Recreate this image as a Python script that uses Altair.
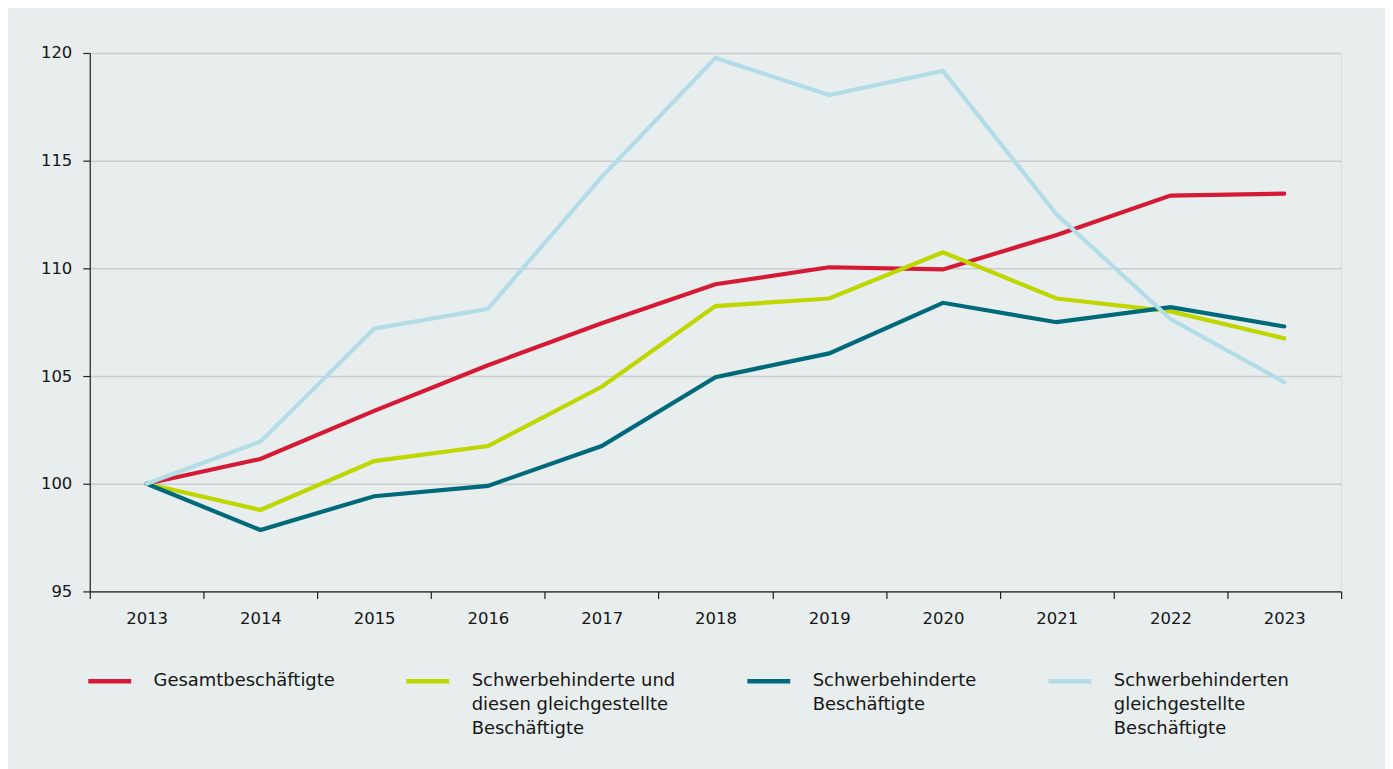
import altair as alt
import pandas as pd
import json

years = [str(y) for y in range(2013, 2024)]
series = [
    "Gesamtbeschäftigte",
    "Schwerbehinderte und diesen gleichgestellte Beschäftigte",
    "Schwerbehinderte Beschäftigte",
    "Schwerbehinderten gleichgestellte Beschäftigte",
]
legend_lines = [
    ["Gesamtbeschäftigte", "", ""],
    ["Schwerbehinderte und", "diesen gleichgestellte", "Beschäftigte"],
    ["Schwerbehinderte", "Beschäftigte", ""],
    ["Schwerbehinderten", "gleichgestellte", "Beschäftigte"],
]
colors = ["#d51a36", "#bfd600", "#00697a", "#b2dce8"]

gesamt = [100, 101.15, 103.38, 105.5, 107.45, 109.26, 110.05, 109.95, 111.55, 113.38, 113.47]
sb_gleich = [100, 98.78, 101.05, 101.75, 104.5, 108.25, 108.6, 110.75, 108.6, 108.0, 106.75]
sb = [100, 97.85, 99.42, 99.9, 101.75, 104.95, 106.05, 108.4, 107.5, 108.2, 107.3]
gleich = [100, 101.95, 107.2, 108.12, 114.25, 119.77, 118.05, 119.17, 112.5, 107.65, 104.72]

values = [gesamt, sb_gleich, sb, gleich]
rows = []
for name, vals in zip(series, values):
    for yr, v in zip(years, vals):
        rows.append({"Jahr": yr, "Serie": name, "Wert": v})
df = pd.DataFrame(rows)

label_map = json.dumps(dict(zip(series, legend_lines)), ensure_ascii=False)

FONT = "DejaVu Sans"
TXT = "#161616"

chart = alt.Chart(df).mark_line(strokeWidth=4.2, strokeCap="round", strokeJoin="miter").encode(
    x=alt.X(
        "Jahr:O",
        scale=alt.Scale(type="band", paddingInner=0, paddingOuter=0),
        bandPosition=0.5,
        axis=alt.Axis(
            title=None, labelAngle=0, tickBand="extent", grid=False,
            domainColor="#222222", tickColor="#222222", tickSize=7,
            labelPadding=12, labelFontSize=16.5, labelColor=TXT, labelFont=FONT,
            domainWidth=1.2, tickWidth=1.2,
        ),
    ),
    y=alt.Y(
        "Wert:Q",
        scale=alt.Scale(domain=[95, 120], nice=False, zero=False),
        axis=alt.Axis(
            title=None, values=[95, 100, 105, 110, 115, 120], grid=True,
            gridColor="#c9cdcd", gridWidth=1.5,
            domainColor="#222222", tickColor="#222222", tickSize=7,
            labelPadding=11, labelFontSize=16.5, labelColor=TXT, labelFont=FONT,
            domainWidth=1.2, tickWidth=1.2,
        ),
    ),
    color=alt.Color(
        "Serie:N",
        scale=alt.Scale(domain=series, range=colors),
        legend=alt.Legend(
            title=None, orient="none", legendX=-4, legendY=606,
            direction="horizontal", columns=4, columnPadding=62,
            symbolType="stroke", symbolSize=1849, symbolStrokeWidth=4.5,
            labelExpr=f"({label_map})[datum.label]",
            labelFontSize=18, labelFont=FONT, labelColor=TXT, labelLimit=0,
            labelOffset=20, labelBaseline="middle",
        ),
    ),
    order=alt.Order("Jahr:O"),
).properties(
    width=1255, height=540,
    background="#e8eded",
    padding={"left": 32, "top": 36, "right": 43, "bottom": 30},
).configure_view(stroke=None).configure(style={"guide-label": {"lineHeight": 24}})

chart.save("out.html", embed_options={"renderer": "svg", "actions": False})
